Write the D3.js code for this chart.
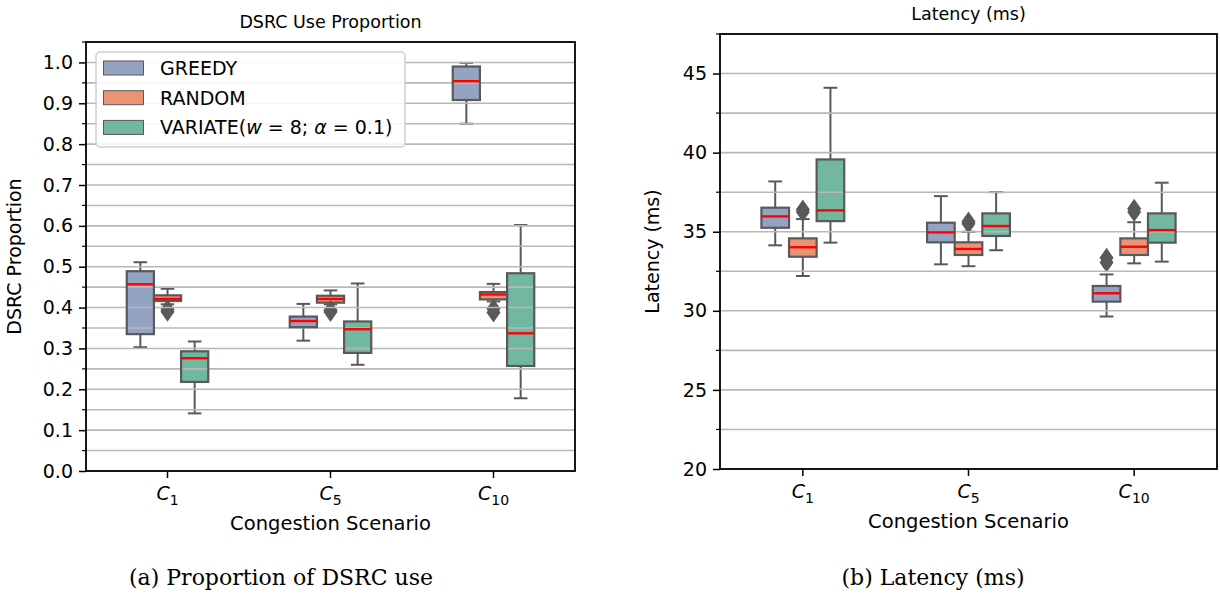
<!DOCTYPE html>
<html>
<head>
<meta charset="utf-8">
<script src="https://cdn.jsdelivr.net/npm/d3@7"></script>
<style>
  body { margin: 0; background: #fff; }
  text { font-family: "DejaVu Sans", sans-serif; fill: #000; }
  .caption { font-family: "DejaVu Serif", "Liberation Serif", serif; }
</style>
</head>
<body>
<script>
// categories and series (five number summary per scenario: low whisker, q1, median, q3, high whisker)
var categories = ['C1', 'C5', 'C10'];
var catSubs = ['1', '5', '10'];
var methods = ['GREEDY', 'RANDOM', 'VARIATE'];
var colors = ['#95a3c3', '#e99575', '#71b7a1'];

var dsrcGreedy = [[0.303, 0.335, 0.457, 0.489, 0.511], [0.319, 0.352, 0.367, 0.378, 0.409], [0.850, 0.908, 0.954, 0.990, 0.999]];
var dsrcRandom = [[0.408, 0.416, 0.421, 0.430, 0.446], [0.408, 0.412, 0.421, 0.429, 0.442], [0.415, 0.420, 0.432, 0.438, 0.458]];
var dsrcVariate = [[0.141, 0.218, 0.276, 0.293, 0.317], [0.260, 0.289, 0.347, 0.366, 0.459], [0.178, 0.257, 0.337, 0.484, 0.602]];
// fliers of RANDOM per scenario
var dsrcRandomOut = [[0.396, 0.390], [0.394, 0.389], [0.397, 0.388]];

var latGreedy = [[34.14, 35.25, 35.97, 36.52, 38.18], [32.94, 34.33, 34.96, 35.57, 37.25], [29.64, 30.58, 31.11, 31.57, 32.30]];
var latRandom = [[32.20, 33.42, 34.02, 34.58, 35.80], [32.82, 33.53, 33.91, 34.33, 35.00], [33.00, 33.53, 34.05, 34.58, 35.60]];
var latVariate = [[34.31, 35.67, 36.35, 39.57, 44.10], [33.83, 34.73, 35.36, 36.16, 37.50], [33.11, 34.31, 35.10, 36.16, 38.10]];
var latGreedyOut = [[], [], [33.05, 33.35]];
var latRandomOut = [[36.25, 36.4], [35.5, 35.65], [36.25, 36.45]];

var svg = d3.select('body')
  .append('svg')
  .attr('width', 1220)
  .attr('height', 597);

function drawPanel(p) {
  var x = d3.scaleBand().domain(categories).range([p.left, p.right]).padding(0);
  var hue = d3.scaleBand().domain(methods).range([-x.bandwidth() / 4, x.bandwidth() / 4]);
  var y = d3.scaleLinear().domain(p.yDomain).range([p.bottom, p.top]);
  var bw = hue.bandwidth();

  var g = svg.append('g');

  // boxes first, then the grid runs over them like in the picture
  var series = p.series;
  series.forEach(function (s, mi) {
    s.forEach(function (st, ci) {
      var cx = x(categories[ci]) + x.bandwidth() / 2 + hue(methods[mi]) + bw / 2;
      var bg = g.append('g');
      // whiskers
      bg.append('line').attr('x1', cx).attr('x2', cx).attr('y1', y(st[0])).attr('y2', y(st[1]))
        .attr('stroke', '#595959').attr('stroke-width', 2);
      bg.append('line').attr('x1', cx).attr('x2', cx).attr('y1', y(st[3])).attr('y2', y(st[4]))
        .attr('stroke', '#595959').attr('stroke-width', 2);
      [st[0], st[4]].forEach(function (v) {
        bg.append('line').attr('x1', cx - bw / 4).attr('x2', cx + bw / 4).attr('y1', y(v)).attr('y2', y(v))
          .attr('stroke', '#595959').attr('stroke-width', 2);
      });
      bg.append('rect')
        .attr('x', cx - bw / 2).attr('width', bw)
        .attr('y', y(st[3])).attr('height', y(st[1]) - y(st[3]))
        .attr('fill', colors[mi]);
      // fliers
      p.outliers[mi][ci].forEach(function (v) {
        var yy = y(v);
        bg.append('path')
          .attr('d', 'M' + cx + ',' + (yy - 10) + 'L' + (cx + 7) + ',' + yy + 'L' + cx + ',' + (yy + 10) + 'L' + (cx - 7) + ',' + yy + 'Z')
          .attr('fill', '#595959');
      });
    });
  });

  // grid at every major and minor step
  var gridVals = d3.range(p.yDomain[0], p.yDomain[1] + 1e-9, p.minorStep);
  g.append('g').selectAll('line')
    .data(gridVals)
    .enter()
    .append('line')
    .attr('x1', p.left).attr('x2', p.right)
    .attr('y1', d => y(d)).attr('y2', d => y(d))
    .attr('stroke', '#b8b8b8').attr('stroke-width', 1.6);

  // box outlines and medians above the grid
  series.forEach(function (s, mi) {
    s.forEach(function (st, ci) {
      var cx = x(categories[ci]) + x.bandwidth() / 2 + hue(methods[mi]) + bw / 2;
      g.append('rect')
        .attr('x', cx - bw / 2).attr('width', bw)
        .attr('y', y(st[3])).attr('height', y(st[1]) - y(st[3]))
        .attr('fill', 'none')
        .attr('stroke', '#595959').attr('stroke-width', 2.2);
      g.append('line')
        .attr('x1', cx - bw / 2).attr('x2', cx + bw / 2)
        .attr('y1', y(st[2])).attr('y2', y(st[2]))
        .attr('stroke', '#ff0000').attr('stroke-width', 2.4);
    });
  });

  // y axis: major labelled ticks, minor ticks
  var majors = d3.range(p.yDomain[0], p.yDomain[1] + 1e-9, p.majorStep).filter(v => v <= p.yDomain[1]);
  var yAxis = d3.axisLeft(y).tickValues(majors).tickFormat(p.fmt).tickSize(7).tickPadding(6);
  var ya = g.append('g')
    .attr('transform', `translate(${p.left},0)`)
    .call(yAxis);
  ya.select('.domain').remove();
  ya.selectAll('line').attr('stroke', '#000').attr('stroke-width', 1.5);
  ya.selectAll('text').style('font-size', '19px').attr('font-family', 'DejaVu Sans');

  var minors = gridVals.filter(v => majors.every(m => Math.abs(m - v) > 1e-6));
  g.append('g').selectAll('line')
    .data(minors)
    .enter()
    .append('line')
    .attr('x1', p.left - 4).attr('x2', p.left)
    .attr('y1', d => y(d)).attr('y2', d => y(d))
    .attr('stroke', '#000').attr('stroke-width', 1.2);

  // x axis ticks with subscript labels
  var xa = g.append('g');
  categories.forEach(function (c, i) {
    var cx = x(c) + x.bandwidth() / 2;
    xa.append('line').attr('x1', cx).attr('x2', cx).attr('y1', p.bottom).attr('y2', p.bottom + 7)
      .attr('stroke', '#000').attr('stroke-width', 1.5);
    var t = xa.append('text')
      .attr('x', cx).attr('y', p.bottom + 29)
      .attr('text-anchor', 'middle')
      .style('font-size', '19px');
    t.append('tspan').attr('font-style', 'italic').text('C');
    t.append('tspan').attr('dy', 5).style('font-size', '14px').text(catSubs[i]);
  });

  // frame
  g.append('rect')
    .attr('x', p.left).attr('y', p.top)
    .attr('width', p.right - p.left).attr('height', p.bottom - p.top)
    .attr('fill', 'none').attr('stroke', '#000').attr('stroke-width', 1.8);

  // texts
  svg.append('text')
    .attr('x', (p.left + p.right) / 2).attr('y', p.top - 14)
    .attr('text-anchor', 'middle').style('font-size', '17.5px')
    .text(p.title);
  svg.append('text')
    .attr('x', (p.left + p.right) / 2).attr('y', p.bottom + 59)
    .attr('text-anchor', 'middle').style('font-size', '19.5px')
    .text('Congestion Scenario');
  svg.append('text')
    .attr('transform', `translate(${p.ylabelX}, ${(p.top + p.bottom) / 2}) rotate(-90)`)
    .attr('text-anchor', 'middle').style('font-size', '19px')
    .text(p.ylabel);
  svg.append('text')
    .attr('class', 'caption')
    .attr('x', p.captionX).attr('y', 585)
    .attr('text-anchor', 'middle').style('font-size', '22px')
    .text(p.caption);
}

drawPanel({
  left: 86, right: 575, top: 42, bottom: 471,
  yDomain: [0, 1.05], majorStep: 0.1, minorStep: 0.05,
  fmt: d3.format('.1f'),
  series: [dsrcGreedy, dsrcRandom, dsrcVariate],
  outliers: [[[], [], []], dsrcRandomOut, [[], [], []]],
  title: 'DSRC Use Proportion', ylabel: 'DSRC Proportion', ylabelX: 21,
  caption: '(a) Proportion of DSRC use', captionX: 281
});

drawPanel({
  left: 720, right: 1217, top: 34, bottom: 469,
  yDomain: [20, 47.5], majorStep: 5, minorStep: 2.5,
  fmt: d3.format('d'),
  series: [latGreedy, latRandom, latVariate],
  outliers: [latGreedyOut, latRandomOut, [[], [], []]],
  title: 'Latency (ms)', ylabel: 'Latency (ms)', ylabelX: 659,
  caption: '(b) Latency (ms)', captionX: 933
});

// legend on the left panel
var legend = svg.append('g');
legend.append('rect')
  .attr('x', 96).attr('y', 52).attr('width', 309).attr('height', 95)
  .attr('rx', 4)
  .attr('fill', '#fff').attr('fill-opacity', 0.85)
  .attr('stroke', '#d0d0d0').attr('stroke-width', 1.5);
methods.forEach(function (m, i) {
  var ly = 68 + i * 29.7;
  legend.append('rect')
    .attr('x', 103.5).attr('y', ly - 7).attr('width', 40).attr('height', 14)
    .attr('fill', colors[i]).attr('stroke', '#595959').attr('stroke-width', 1);
  var t = legend.append('text')
    .attr('x', 160).attr('y', ly + 7)
    .style('font-size', '19px');
  if (m === 'VARIATE') {
    t.append('tspan').text('VARIATE(');
    t.append('tspan').attr('font-style', 'italic').text('w');
    t.append('tspan').text(' = 8; ');
    t.append('tspan').attr('font-style', 'italic').text('α');
    t.append('tspan').text(' = 0.1)');
  } else {
    t.text(m);
  }
});
</script>
</body>
</html>
